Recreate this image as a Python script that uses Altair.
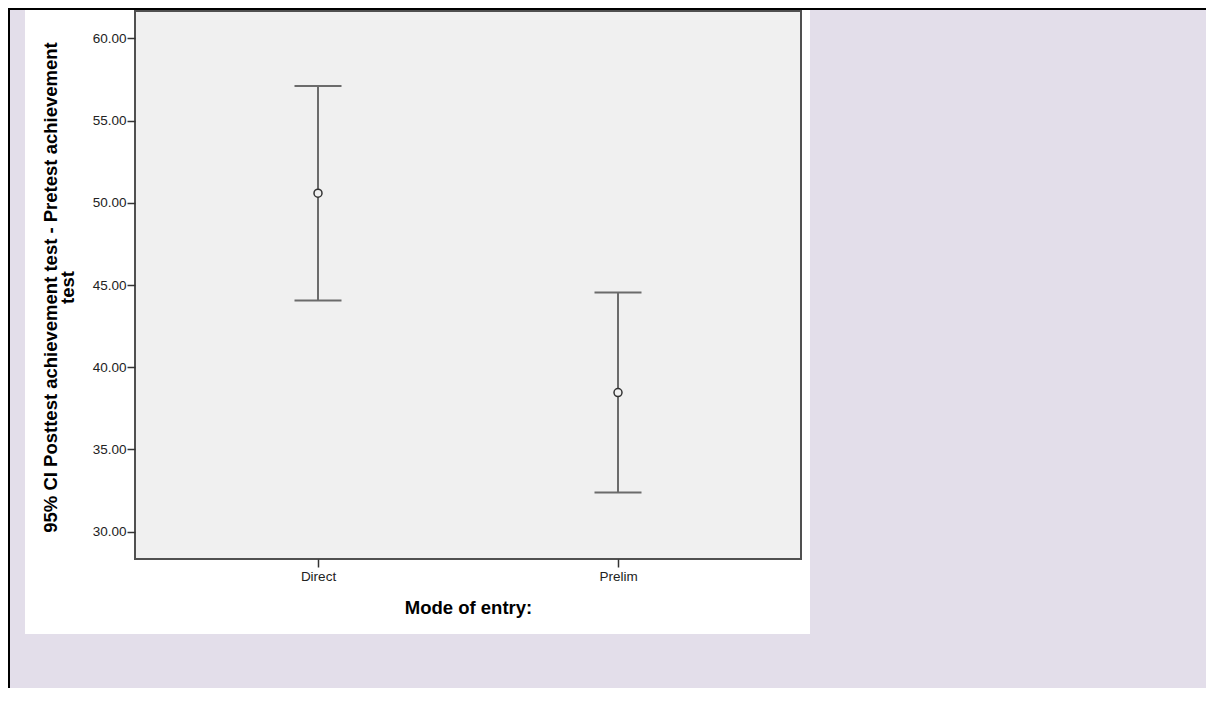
import altair as alt
import pandas as pd

# Data
modes = ["Direct", "Prelim"]
means = [50.58, 38.46]
lowers = [44.05, 32.38]
uppers = [57.10, 44.54]
y_ticks = [30, 35, 40, 45, 50, 55, 60]

df = pd.DataFrame({"mode": modes, "mean": means, "lower": lowers, "upper": uppers})

FONT = "Liberation Sans"
W, H = 666, 548
ysc = alt.Scale(domain=[28.34, 61.66], nice=False, zero=False)
xsc = alt.Scale(type="point", padding=0.61, domain=modes)

x_axis = alt.Axis(
    title="Mode of entry:", titleFontSize=18.5, titleFontWeight="bold", titleColor="#000000",
    titleFont=FONT, titleY=54, titleBaseline="alphabetic",
    labelFont=FONT, labelFontSize=13.5, labelColor="#222222", labelAngle=0, labelPadding=2,
    tickSize=8, tickColor="#333333", tickWidth=1.5, domain=False, grid=False, zindex=1,
)
y_axis = alt.Axis(
    title=["95% CI Posttest achievement test - Pretest achievement", "test"],
    titleFontSize=18.5, titleFontWeight="bold", titleColor="#000000", titleFont=FONT,
    titleAngle=270, titleX=-79, titleY=276, titleAlign="center", titleBaseline="alphabetic",
    titleLineHeight=17,
    values=y_ticks, format=".2f",
    labelFont=FONT, labelFontSize=13.5, labelColor="#222222", labelPadding=1,
    tickSize=8, tickColor="#333333", tickWidth=1.5, domain=False, grid=False, zindex=1,
)

one = alt.Data(values=[{"a": 1}])

white_panel = alt.Chart(one).mark_rect(fill="#FFFFFF").encode(
    x=alt.value(-110), x2=alt.value(675), y=alt.value(-1), y2=alt.value(623)
)
plot_bg = alt.Chart(one).mark_rect(fill="#F0F0F0", stroke="#505050", strokeWidth=2).encode(
    x=alt.value(0), x2=alt.value(W), y=alt.value(0), y2=alt.value(H)
)
top_line = alt.Chart(one).mark_rule(color="#000000", strokeWidth=2).encode(
    x=alt.value(-127), x2=alt.value(1071), y=alt.value(-2)
)
left_line = alt.Chart(one).mark_rule(color="#000000", strokeWidth=2).encode(
    x=alt.value(-126), y=alt.value(-3), y2=alt.value(680)
)

base = alt.Chart(df)
bars = base.mark_rule(color="#6b6b6b", strokeWidth=2).encode(
    x=alt.X("mode:N", scale=xsc, axis=x_axis),
    y=alt.Y("lower:Q", scale=ysc, axis=y_axis),
    y2="upper:Q",
)
cap_lo = base.mark_tick(color="#6b6b6b", size=47, thickness=2, orient="horizontal", opacity=1).encode(
    x=alt.X("mode:N", scale=xsc), y=alt.Y("lower:Q", scale=ysc)
)
cap_hi = base.mark_tick(color="#6b6b6b", size=47, thickness=2, orient="horizontal", opacity=1).encode(
    x=alt.X("mode:N", scale=xsc), y=alt.Y("upper:Q", scale=ysc)
)
pts = base.mark_point(shape="circle", size=64, filled=True, fill="#F0F0F0", stroke="#333333",
                      strokeWidth=1.5, opacity=1).encode(
    x=alt.X("mode:N", scale=xsc), y=alt.Y("mean:Q", scale=ysc)
)

chart = alt.layer(
    white_panel, plot_bg, bars, cap_lo, cap_hi, pts, top_line, left_line
).properties(
    width=W, height=H,
    autosize=alt.AutoSizeParams(type="none"),
    padding={"left": 127, "top": 3, "right": 405, "bottom": 129},
).configure(
    background="#E3DEEA"
).configure_view(
    strokeWidth=0, fill="transparent"
)

chart.save("out.html", embed_options={"renderer": "svg", "actions": False})
